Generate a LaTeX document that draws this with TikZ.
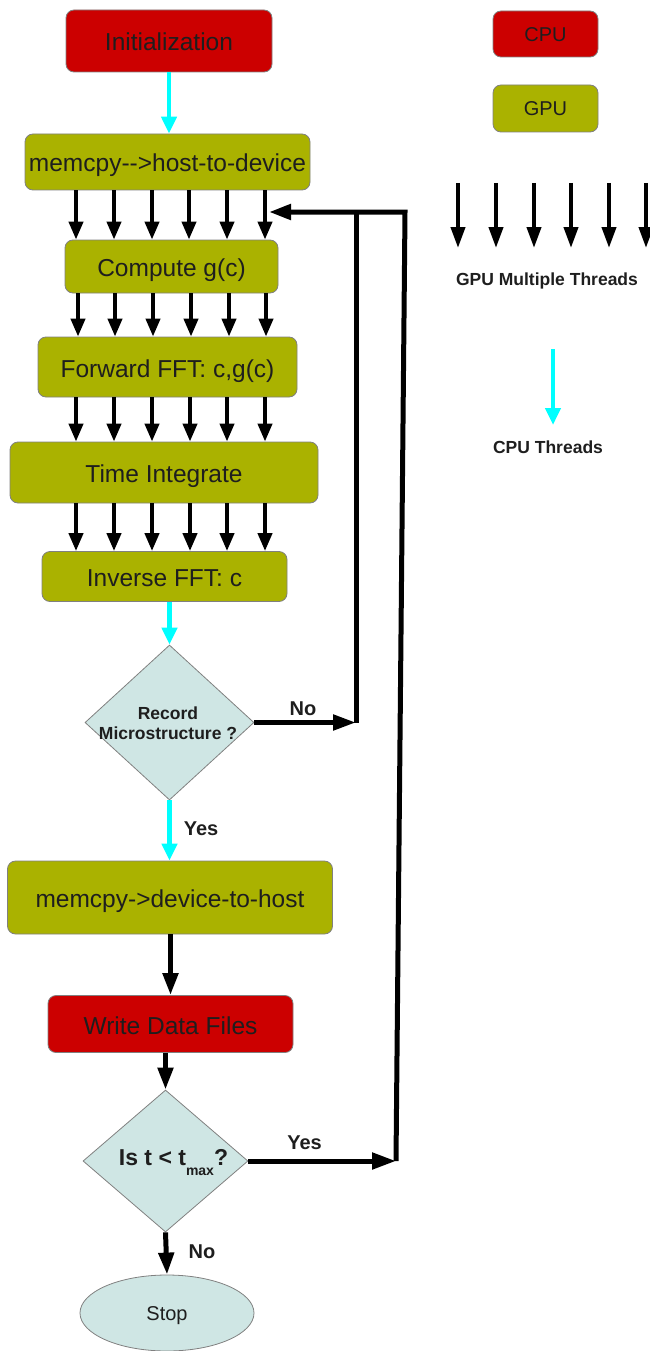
\documentclass[tikz,border=0pt]{standalone}
\usepackage{fontspec}
\setmainfont{Liberation Sans}
\usetikzlibrary{arrows.meta,shapes.geometric}
\definecolor{cpured}{RGB}{204,0,0}
\definecolor{gpuolive}{RGB}{170,178,0}
\definecolor{decfill}{RGB}{207,230,228}
\definecolor{bordergray}{RGB}{128,128,128}
\definecolor{txt}{RGB}{30,30,30}
\definecolor{cyanarr}{RGB}{0,255,255}
\begin{document}
\begin{tikzpicture}[x=1pt,y=-1pt,
  box/.style={draw=bordergray,line width=0.8pt,rounded corners=8pt,inner sep=0pt,text=txt,font=\fontsize{24.5}{28}\selectfont,text height=20pt,text depth=0pt},
  cpubox/.style={box,fill=cpured},
  gpubox/.style={box,fill=gpuolive},
  legbox/.style={font=\fontsize{20}{24}\selectfont,text height=14.4pt,text depth=0pt,minimum width=105pt},
  thr/.style={line width=4pt,-{Triangle[length=18pt,width=14pt]}},
  cyarr/.style={cyanarr,line width=4.5pt,-{Triangle[length=17pt,width=15pt]}},
  blkarr/.style={line width=5pt,-{Triangle[length=22pt,width=15pt]}},
  loopln/.style={line width=5pt,line join=miter},
  lbl/.style={font=\bfseries\fontsize{20}{24}\selectfont,text=txt},
  smallbold/.style={font=\bfseries\fontsize{17.5}{20.5}\selectfont,text=txt,align=center},
  dec/.style={diamond,draw=bordergray,line width=0.8pt,fill=decfill,inner sep=0pt}
]
\useasboundingbox (0,0) rectangle (650,1351);

% main flow nodes
\node[cpubox,minimum width=206pt,minimum height=62pt] (init) at (169,41) {Initialization};
\node[gpubox,minimum width=285pt,minimum height=56pt] (h2d) at (167.5,162) {memcpy-\kern0pt-\kern0pt>host-to-device};
\node[gpubox,minimum width=213pt,minimum height=53pt] (comp) at (171.5,266.5) {Compute g(c)};
\node[gpubox,minimum width=259pt,minimum height=60pt] (fwd) at (167.5,367) {Forward FFT: c,g(c)};
\node[gpubox,minimum width=308pt,minimum height=61pt] (tint) at (164,472.5) {Time Integrate};
\node[gpubox,minimum width=245pt,minimum height=50pt] (inv) at (164.5,576.5) {Inverse FFT: c};
\node[dec,minimum width=169pt,minimum height=155pt] (d1) at (169.5,722.5) {};
\node[smallbold] (d1t) at (168,723) {Record\\Microstructure ?};
\node[gpubox,minimum width=325pt,minimum height=73pt] (d2h) at (170,897.5) {memcpy-\kern0pt>device-to-host};
\node[cpubox,minimum width=245pt,minimum height=57pt] (wdf) at (170.5,1024) {Write Data Files};
\node[dec,minimum width=165pt,minimum height=142pt] (d2) at (165.5,1161) {};
\node[anchor=base,font=\bfseries\fontsize{23}{26}\selectfont,text=txt,inner sep=0pt] (d2t) at (173.5,1165) {Is t < t\raisebox{-10pt}{\fontsize{14}{14}\selectfont max}?};
\node[ellipse,draw=bordergray,line width=0.8pt,fill=decfill,minimum width=174pt,minimum height=76pt,inner sep=0pt,font=\fontsize{20}{24}\selectfont,text=txt,text height=14.4pt,text depth=0pt] (stop) at (167,1313) {Stop};

% connectors
\draw[cyarr] (init.south) -- (init.south |- h2d.north);
\foreach \x in {76,114,152,189,227,265} \draw[thr] (h2d.south -| \x,0) -- (comp.north -| \x,0);
\foreach \x in {78,115,153,191,229,266} \draw[thr] (comp.south -| \x,0) -- (fwd.north -| \x,0);
\foreach \x in {76,114,152,190,227,265} \draw[thr] (fwd.south -| \x,0) -- (tint.north -| \x,0);
\foreach \x in {76,114,152,190,227,265} \draw[thr] (tint.south -| \x,0) -- (inv.north -| \x,0);
\draw[cyarr] (inv.south -| d1.north) -- (d1.north);
\draw[cyarr] (d1.south) -- (d1.south |- d2h.north);
\draw[blkarr] (d2h.south -| wdf.north) -- (wdf.north);
\draw[blkarr] (wdf.south -| d2.north) -- (d2.north);
\draw[blkarr] (d2.south) -- (stop.north);

% feedback loop
\coordinate (cN) at (356,722.5);
\coordinate (tgt) at (269,212);
\coordinate (cTR) at (405,212);
\coordinate (cY) at (396,1161);
\draw[loopln,-{Triangle[length=23pt,width=15pt]}] (d1.east) -- (cN);
\draw[loopln] (cN) -- (cN |- tgt);
\draw[loopln,-{Triangle[length=22pt,width=15pt]}] (cY) -- (cTR) -- (tgt);
\draw[loopln,-{Triangle[length=24pt,width=16pt]}] (d2.east) -- (cY);

% labels
\node[lbl] (no1) at (303,709) {No};
\node[lbl] (yes1) at (201,829) {Yes};
\node[lbl] (yes2) at (304.5,1143) {Yes};
\node[lbl] (no2) at (202,1252) {No};

% legend
\node[cpubox,legbox,minimum height=46pt] (lcpu) at (545.5,34) {CPU};
\node[gpubox,legbox,minimum height=47pt] (lgpu) at (545.5,108.5) {GPU};
\foreach \x in {458,496,534,571,609,646} {
  \coordinate (lt\x) at (\x,183);
  \coordinate (lb\x) at (\x,248);
  \draw[line width=4pt,-{Triangle[length=21pt,width=14pt]}] (lt\x) -- (lb\x);
}
\node[smallbold] (lgt) at (547,281) {GPU Multiple Threads};
\coordinate (lct1) at (553,349);
\coordinate (lct2) at (553,425);
\draw[cyarr] (lct1) -- (lct2);
\node[smallbold] (lct) at (548,447) {CPU Threads};
\end{tikzpicture}
\end{document}
